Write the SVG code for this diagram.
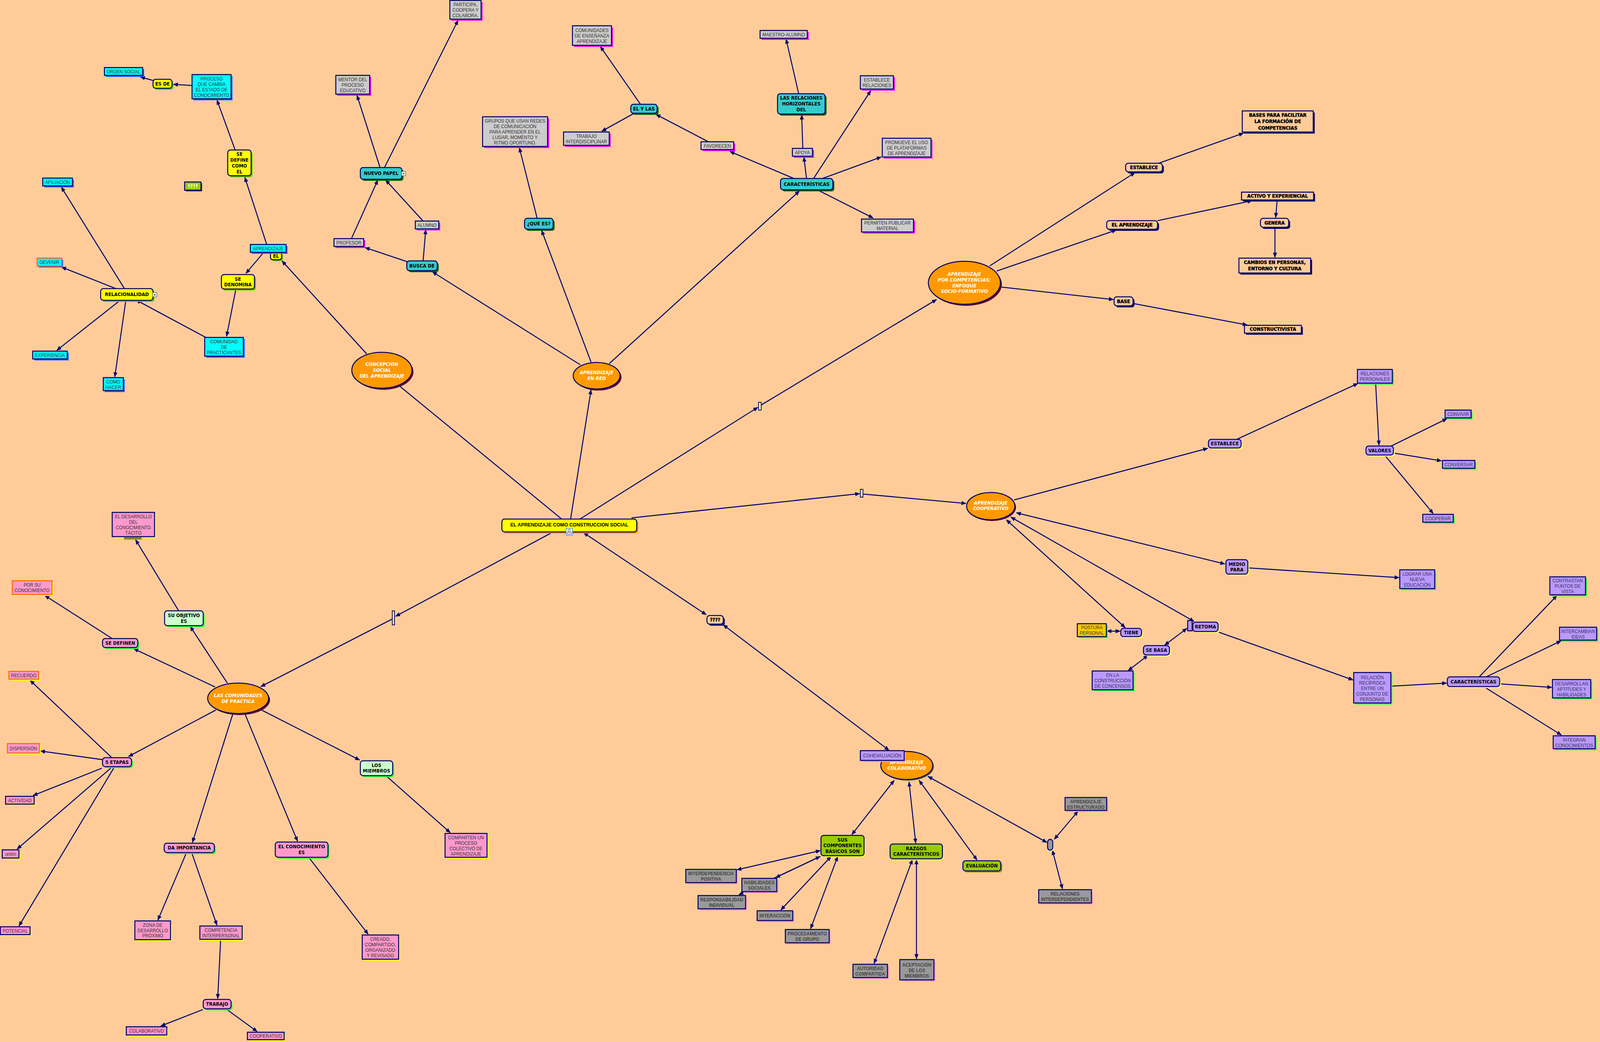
<svg xmlns="http://www.w3.org/2000/svg" width="4307" height="2668" viewBox="0 0 4307 2668" preserveAspectRatio="none">
<defs>
<style>
svg{width:100vw;height:100vh}
.c line{stroke:#000070;stroke-width:2.6;fill:none}
.c .a{marker-end:url(#ah)}
.c .d{marker-start:url(#ah);marker-end:url(#ah)}
.bx{stroke:#000066;stroke-width:2.6}
.sh{stroke:none}
text{text-anchor:middle;dominant-baseline:central}
.t{font-family:"Liberation Sans",Arial,sans-serif;font-size:12px;fill:#333}
.tg{font-family:"Liberation Sans",Arial,sans-serif;font-size:12px;font-weight:bold;fill:#444}
.tb{font-family:"DejaVu Sans",Verdana,sans-serif;font-size:12px;font-weight:bold;fill:#000}
.th{font-family:"DejaVu Sans",Verdana,sans-serif;font-size:12px;font-weight:bold;fill:#000;stroke:#000;stroke-width:0.6}
.te{font-family:"DejaVu Sans",Verdana,sans-serif;font-size:12px;font-weight:bold;font-style:italic;fill:#fff}
.tm{font-family:"Liberation Sans",Arial,sans-serif;font-size:13px;font-weight:bold;fill:#000}
.tp{font-family:"Liberation Sans",Arial,sans-serif;font-size:12px;fill:#333355}
.cy .bx{fill:#00FFFF}.cy .sh{fill:#3366FF}
.cyo .bx{fill:#00FFFF;stroke:#FF6600}.cyo .sh{fill:#3366FF}
.gm .bx{fill:#CCCCCC}.gm .sh{fill:#FF00FF}
.gp .bx{fill:#999999}.gp .sh{fill:#FF99CC}
.yr .bx{fill:#FFFF00}.yr .sh{fill:#66CC00}
.tr .bx{fill:#33CCCC}.tr .sh{fill:#006600}
.pk .bx{fill:#FF99CC}.pk .sh{fill:#FFFF00}
.pko .bx{fill:#FF99CC;stroke:#FF6600}.pko .sh{fill:#FFFF00}
.pkr .bx{fill:#FF99CC}.pkr .sh{fill:#33FF33}
.mr .bx{fill:#CCFFCC}.mr .sh{fill:#33FF33}
.pu .bx{fill:#BB99FF}.pu .sh{fill:#33FF33}
.pup .bx{fill:#BB99FF}.pup .sh{fill:#FF99CC}
.pur .bx{fill:#BB99FF}.pur .sh{fill:#FFFF66}
.gd .bx{fill:#FFCC00}.gd .sh{fill:#33FF33}
.gn .bx{fill:#99CC00}.gn .sh{fill:#FFFF33}
.gno .bx{fill:#99CC00}.gno .sh{fill:#999900}
.hv .bx{fill:#FFCC99}.hv .sh{fill:#000066}
.el .bx{fill:#FF9900}.el .sh{fill:#660033}
.elo .bx{fill:#FF9900}.elo .sh{fill:#666633}
.mn .bx{fill:#FFFF00}.mn .sh{fill:#FF9900}
.mk .bx{fill:#FFFF99}
.mky .bx{fill:#FFFF66}
.gr .bx{fill:#99CC00}.gr .sh{fill:#333333}
.ic{fill:#fff;stroke:#333;stroke-width:1}
.icx{font-family:"DejaVu Sans",sans-serif;font-size:10px;font-weight:bold;fill:#000}
</style>
<marker id="ah" viewBox="0 0 12 10" refX="11" refY="5" markerWidth="13" markerHeight="11" markerUnits="userSpaceOnUse" orient="auto-start-reverse"><path d="M0,0 L12,5 L0,10 z" fill="#000070"/></marker>
</defs>
<rect x="0" y="0" width="4307" height="2668" fill="#FFCC99"/>

<g id="connectors" class="c">
<line class="a" x1="517" y1="219" x2="467" y2="216"/>
<line class="a" x1="412" y1="206" x2="378" y2="197"/>
<line class="a" x1="633" y1="384" x2="584" y2="256"/>
<line class="a" x1="718" y1="626" x2="659" y2="454"/>
<line class="a" x1="710" y1="646" x2="662" y2="700"/>
<line class="a" x1="635" y1="740" x2="610" y2="861"/>
<line class="a" x1="554" y1="864" x2="366" y2="768"/>
<line class="a" x1="335" y1="739" x2="165" y2="479"/>
<line class="a" x1="312" y1="739" x2="166" y2="684"/>
<line class="a" x1="326" y1="767" x2="153" y2="897"/>
<line class="a" x1="339" y1="767" x2="309" y2="965"/>
<line class="a" x1="987" y1="906" x2="759" y2="668"/>
<line x1="1512" y1="1329" x2="1075" y2="988"/>
<line class="a" x1="946" y1="611" x2="1017" y2="461"/>
<line class="a" x1="1023" y1="429" x2="961" y2="244"/>
<line class="a" x1="1035" y1="429" x2="1233" y2="52"/>
<line class="a" x1="1139" y1="566" x2="1038" y2="461"/>
<line class="a" x1="1096" y1="670" x2="983" y2="634"/>
<line class="a" x1="1139" y1="668" x2="1146" y2="588"/>
<line class="a" x1="1562" y1="934" x2="1164" y2="696"/>
<line class="a" x1="1591" y1="927" x2="1458" y2="590"/>
<line class="a" x1="1446" y1="559" x2="1398" y2="378"/>
<line class="a" x1="1640" y1="931" x2="2152" y2="489"/>
<line class="a" x1="2137" y1="457" x2="1965" y2="388"/>
<line class="a" x1="1907" y1="363" x2="1766" y2="293"/>
<line class="a" x1="1724" y1="267" x2="1616" y2="119"/>
<line class="a" x1="1707" y1="290" x2="1620" y2="336"/>
<line class="a" x1="2171" y1="457" x2="2164" y2="402"/>
<line class="a" x1="2161" y1="380" x2="2158" y2="294"/>
<line class="a" x1="2150" y1="240" x2="2116" y2="100"/>
<line class="a" x1="2190" y1="457" x2="2344" y2="232"/>
<line class="a" x1="2214" y1="457" x2="2372" y2="402"/>
<line class="a" x1="2200" y1="486" x2="2350" y2="558"/>
<line class="a" x1="1536" y1="1329" x2="1591" y2="998"/>
<line class="a" x1="1561" y1="1329" x2="2040" y2="1043"/>
<line class="a" x1="2049" y1="1037" x2="2521" y2="767"/>
<line class="a" x1="2664" y1="681" x2="3055" y2="442"/>
<line class="a" x1="3119" y1="418" x2="3347" y2="341"/>
<line class="a" x1="2683" y1="694" x2="3005" y2="589"/>
<line class="a" x1="3116" y1="565" x2="3370" y2="514"/>
<line class="a" x1="3438" y1="512" x2="3434" y2="557"/>
<line class="a" x1="3432" y1="582" x2="3432" y2="659"/>
<line class="a" x1="2695" y1="735" x2="2997" y2="767"/>
<line class="a" x1="3050" y1="777" x2="3357" y2="832"/>
<line class="a" x1="1700" y1="1326" x2="2314" y2="1264"/>
<line class="a" x1="2323" y1="1265" x2="2600" y2="1289"/>
<line class="a" x1="2730" y1="1280" x2="3251" y2="1148"/>
<line class="a" x1="3329" y1="1125" x2="3655" y2="982"/>
<line class="a" x1="3703" y1="981" x2="3712" y2="1140"/>
<line class="a" x1="3745" y1="1142" x2="3895" y2="1072"/>
<line class="a" x1="3751" y1="1160" x2="3880" y2="1180"/>
<line class="a" x1="3727" y1="1165" x2="3858" y2="1315"/>
<line class="d" x1="2736" y1="1313" x2="3297" y2="1444"/>
<line class="a" x1="3359" y1="1454" x2="3766" y2="1479"/>
<line class="d" x1="2709" y1="1331" x2="3029" y2="1607"/>
<line class="d" x1="2721" y1="1324" x2="3214" y2="1591"/>
<line class="d" x1="2980" y1="1616" x2="3015" y2="1616"/>
<line class="d" x1="3195" y1="1609" x2="3135" y2="1652"/>
<line class="d" x1="3090" y1="1678" x2="3037" y2="1717"/>
<line class="a" x1="3279" y1="1618" x2="3642" y2="1741"/>
<line class="a" x1="3744" y1="1757" x2="3894" y2="1749"/>
<line class="a" x1="3982" y1="1733" x2="4191" y2="1525"/>
<line class="a" x1="4001" y1="1733" x2="4202" y2="1641"/>
<line class="a" x1="4037" y1="1751" x2="4177" y2="1760"/>
<line class="a" x1="3994" y1="1758" x2="4203" y2="1882"/>
<line class="d" x1="1571" y1="1364" x2="1901" y2="1574"/>
<line class="d" x1="1947" y1="1600" x2="2393" y2="1921"/>
<line class="d" x1="2407" y1="1998" x2="2293" y2="2137"/>
<line class="d" x1="2447" y1="2002" x2="2465" y2="2159"/>
<line class="d" x1="2474" y1="1998" x2="2630" y2="2202"/>
<line class="d" x1="2498" y1="1988" x2="2818" y2="2157"/>
<line class="d" x1="2838" y1="2149" x2="2902" y2="2077"/>
<line class="d" x1="2833" y1="2177" x2="2860" y2="2276"/>
<line class="d" x1="2456" y1="2201" x2="2353" y2="2467"/>
<line class="d" x1="2467" y1="2201" x2="2467" y2="2455"/>
<line class="d" x1="2208" y1="2178" x2="1984" y2="2227"/>
<line class="d" x1="2208" y1="2193" x2="2088" y2="2247"/>
<line class="a" x1="2208" y1="2193" x2="1989" y2="2291"/>
<line class="d" x1="2237" y1="2193" x2="2102" y2="2330"/>
<line class="d" x1="2255" y1="2193" x2="2182" y2="2378"/>
<line class="a" x1="1489" y1="1362" x2="1065" y2="1578"/>
<line class="a" x1="1056" y1="1585" x2="702" y2="1758"/>
<line class="a" x1="612" y1="1749" x2="512" y2="1604"/>
<line class="a" x1="481" y1="1564" x2="365" y2="1382"/>
<line class="a" x1="579" y1="1759" x2="360" y2="1661"/>
<line class="a" x1="302" y1="1635" x2="121" y2="1525"/>
<line class="a" x1="301" y1="1940" x2="81" y2="1742"/>
<line class="a" x1="581" y1="1818" x2="346" y2="1937"/>
<line class="a" x1="276" y1="1945" x2="109" y2="1923"/>
<line class="a" x1="274" y1="1967" x2="89" y2="2037"/>
<line class="a" x1="298" y1="1967" x2="46" y2="2174"/>
<line class="a" x1="306" y1="1967" x2="51" y2="2371"/>
<line class="a" x1="627" y1="1827" x2="518" y2="2157"/>
<line class="a" x1="659" y1="1827" x2="801" y2="2154"/>
<line class="a" x1="704" y1="1818" x2="968" y2="1946"/>
<line class="a" x1="1040" y1="1987" x2="1212" y2="2132"/>
<line class="a" x1="502" y1="2183" x2="425" y2="2356"/>
<line class="a" x1="516" y1="2183" x2="584" y2="2369"/>
<line class="a" x1="831" y1="2195" x2="991" y2="2392"/>
<line class="a" x1="594" y1="2405" x2="586" y2="2557"/>
<line class="a" x1="546" y1="2585" x2="433" y2="2627"/>
<line class="a" x1="608" y1="2583" x2="692" y2="2641"/>
</g>

<g id="nodes">
<g id="n-orden-social" class="cy"><rect class="sh" x="285" y="177" width="103" height="20"/><rect class="bx" x="281" y="173" width="103" height="20"/><text class="t" x="332.5" y="183">ORDEN SOCIAL</text></g>
<g id="n-es-de" class="yr"><rect class="sh" x="416" y="207" width="51" height="23" rx="7"/><rect class="bx" x="412" y="203" width="51" height="23" rx="7"/><text class="tb" x="437.5" y="214.5">ES DE</text></g>
<g id="n-proceso" class="cy"><rect class="sh" x="521" y="195" width="105" height="62"/><rect class="bx" x="517" y="191" width="105" height="62"/><text class="t" x="569.5" y="201">PROCESO</text><text class="t" x="569.5" y="215">QUE CAMBIA</text><text class="t" x="569.5" y="229">EL ESTADO DE</text><text class="t" x="569.5" y="243">CONOCIMIENTO</text></g>
<g id="n-se-define" class="yr"><rect class="sh" x="617" y="388" width="63" height="66" rx="7"/><rect class="bx" x="613" y="384" width="63" height="66" rx="7"/><text class="tb" x="644.5" y="395">SE</text><text class="tb" x="644.5" y="410">DEFINE</text><text class="tb" x="644.5" y="425">COMO</text><text class="tb" x="644.5" y="440">EL</text></g>
<g id="n-mentor" class="gm"><rect class="sh" x="908" y="197" width="91" height="48"/><rect class="bx" x="904" y="193" width="91" height="48"/><text class="t" x="949.5" y="203">MENTOR DEL</text><text class="t" x="949.5" y="217">PROCESO</text><text class="t" x="949.5" y="231">EDUCATIVO</text></g>
<g id="n-afiliacion" class="cy"><rect class="sh" x="119" y="460" width="80" height="20"/><rect class="bx" x="115" y="456" width="80" height="20"/><text class="t" x="155" y="466">AFILIACION</text></g>
<g id="n-q-green" class="gr"><rect class="sh" x="500" y="469" width="44" height="21"/><rect class="bx" x="497" y="466" width="44" height="21"/><text class="tb" x="519" y="476.5" style="fill:#fff">????</text></g>
<g id="n-nuevo-papel" class="tr"><rect class="sh" x="974" y="433" width="112" height="30" rx="7"/><rect class="bx" x="970" y="429" width="112" height="30" rx="7"/><text class="tb" x="1026" y="444">NUEVO PAPEL</text><rect class="ic" x="1081" y="439" width="11" height="11"/><text class="icx" x="1086.5" y="444.5">»</text></g>
<g id="n-profesor" class="gm"><rect class="sh" x="903" y="615" width="80" height="20"/><rect class="bx" x="899" y="611" width="80" height="20"/><text class="t" x="939" y="621">PROFESOR</text></g>
<g id="n-el" class="yr"><rect class="sh" x="732" y="650" width="30" height="19" rx="6"/><rect class="bx" x="728" y="646" width="30" height="19" rx="6"/><text class="tb" x="743" y="656">EL</text></g>
<g id="n-aprendizaje-c" class="cy"><rect class="sh" x="678" y="630" width="96" height="20"/><rect class="bx" x="674" y="626" width="96" height="20"/><text class="t" x="722" y="636">APRENDIZAJE</text></g>
<g id="n-devenir" class="cyo"><rect class="sh" x="104" y="665" width="66" height="20"/><rect class="bx" x="100" y="661" width="66" height="20"/><text class="t" x="133" y="671">DEVENIR</text></g>
<g id="n-se-denomina" class="yr"><rect class="sh" x="600" y="707" width="89" height="37" rx="7"/><rect class="bx" x="596" y="703" width="89" height="37" rx="7"/><text class="tb" x="640.5" y="714.5">SE</text><text class="tb" x="640.5" y="728.5">DENOMINA</text></g>
<g id="n-relacionalidad" class="yr"><rect class="sh" x="275" y="743" width="141" height="30" rx="7"/><rect class="bx" x="271" y="739" width="141" height="30" rx="7"/><text class="tb" x="341.5" y="754">RELACIONALIDAD</text><rect class="ic" x="411" y="749" width="11" height="11"/><text class="icx" x="416.5" y="754.5">»</text></g>
<g id="n-comunidad-practicantes" class="cy"><rect class="sh" x="555" y="868" width="104" height="48"/><rect class="bx" x="551" y="864" width="104" height="48"/><text class="t" x="603" y="874">COMUNIDAD</text><text class="t" x="603" y="888">DE</text><text class="t" x="603" y="902">PRACTICANTES</text></g>
<g id="n-experiencia" class="cy"><rect class="sh" x="92" y="903" width="93" height="20"/><rect class="bx" x="88" y="899" width="93" height="20"/><text class="t" x="134.5" y="909">EXPERIENCIA</text></g>
<g id="n-como-hacer" class="cy"><rect class="sh" x="282" y="971" width="54" height="33"/><rect class="bx" x="278" y="967" width="54" height="33"/><text class="t" x="305" y="977">COMO</text><text class="t" x="305" y="991">HACER</text></g>
<g id="n-concepcion" class="el"><ellipse class="sh" cx="1032" cy="952" rx="81" ry="46"/><ellipse class="bx" cx="1028" cy="948" rx="81" ry="46"/><text class="te" x="1028" y="933">CONCEPCION</text><text class="te" x="1028" y="948">SOCIAL</text><text class="te" x="1028" y="963">DEL APRENDIZAJE</text></g>

<g id="n-participa" class="gm"><rect class="sh" x="1215" y="5" width="84" height="48"/><rect class="bx" x="1211" y="1" width="84" height="48"/><text class="t" x="1253" y="11.5">PARTICIPA,</text><text class="t" x="1253" y="25.5">COOPERA Y</text><text class="t" x="1253" y="39">COLABORA.</text></g>
<g id="n-comunidades-ea" class="gm"><rect class="sh" x="1545" y="70" width="105" height="50"/><rect class="bx" x="1541" y="66" width="105" height="50"/><text class="t" x="1593.5" y="77">COMUNIDADES</text><text class="t" x="1593.5" y="91">DE ENSEÑANZA</text><text class="t" x="1593.5" y="105">APRENDIZAJE</text></g>
<g id="n-maestro-alumno" class="gm"><rect class="sh" x="2050" y="82" width="127" height="20"/><rect class="bx" x="2046" y="78" width="127" height="20"/><text class="t" x="2109.5" y="88">MAESTRO-ALUMNO</text></g>
<g id="n-grupos" class="gm"><rect class="sh" x="1303" y="303" width="175" height="76"/><rect class="bx" x="1299" y="299" width="175" height="76"/><text class="t" x="1386.5" y="309">GRUPOS QUE USAN REDES</text><text class="t" x="1386.5" y="323">DE COMUNICACIÓN</text><text class="t" x="1386.5" y="337">PARA APRENDER EN EL</text><text class="t" x="1386.5" y="351">LUGAR, MOMENTO Y</text><text class="t" x="1386.5" y="365">RITMO OPORTUNO.</text></g>
<g id="n-el-y-las" class="tr"><rect class="sh" x="1702" y="271" width="71" height="23" rx="7"/><rect class="bx" x="1698" y="267" width="71" height="23" rx="7"/><text class="tb" x="1733.5" y="278.5">EL Y LAS</text></g>
<g id="n-trabajo-inter" class="gm"><rect class="sh" x="1521" y="342" width="123" height="34"/><rect class="bx" x="1517" y="338" width="123" height="34"/><text class="t" x="1578.5" y="348">TRABAJO</text><text class="t" x="1578.5" y="362">INTERDISCIPLINAR</text></g>
<g id="n-relaciones-horiz" class="tr"><rect class="sh" x="2097" y="244" width="128" height="52" rx="7"/><rect class="bx" x="2093" y="240" width="128" height="52" rx="7"/><text class="tb" x="2157" y="251">LAS RELACIONES</text><text class="tb" x="2157" y="266">HORIZONTALES</text><text class="tb" x="2157" y="281">DEL</text></g>
<g id="n-favorecen" class="gm"><rect class="sh" x="1891" y="367" width="88" height="20"/><rect class="bx" x="1887" y="363" width="88" height="20"/><text class="t" x="1931" y="373">FAVORECEN</text></g>
<g id="n-apoya" class="gm"><rect class="sh" x="2137" y="384" width="54" height="20"/><rect class="bx" x="2133" y="380" width="54" height="20"/><text class="t" x="2160" y="390">APOYA</text></g>
<g id="n-caracteristicas-red" class="tr"><rect class="sh" x="2105" y="461" width="141" height="29" rx="7"/><rect class="bx" x="2101" y="457" width="141" height="29" rx="7"/><text class="tb" x="2171.5" y="471.5">CARACTERÍSTICAS</text></g>
<g id="n-alumno" class="gm"><rect class="sh" x="1122" y="570" width="63" height="20"/><rect class="bx" x="1118" y="566" width="63" height="20"/><text class="t" x="1149.5" y="576">ALUMNO</text></g>
<g id="n-que-es" class="tr"><rect class="sh" x="1416" y="563" width="77" height="28" rx="7"/><rect class="bx" x="1412" y="559" width="77" height="28" rx="7"/><text class="tb" x="1450.5" y="573">¿QUÉ ES?</text></g>
<g id="n-busca-de" class="tr"><rect class="sh" x="1099" y="672" width="82" height="25" rx="7"/><rect class="bx" x="1095" y="668" width="82" height="25" rx="7"/><text class="tb" x="1136" y="680.5">BUSCA DE</text></g>
<g id="n-aprendizaje-red" class="el"><ellipse class="sh" cx="1610" cy="966" rx="63" ry="34"/><ellipse class="bx" cx="1606" cy="962" rx="63" ry="34"/><text class="te" x="1606" y="954">APRENDIZAJE</text><text class="te" x="1606" y="969">EN RED</text></g>
<g id="n-establece-relaciones" class="gm"><rect class="sh" x="2320" y="198" width="89" height="34"/><rect class="bx" x="2316" y="194" width="89" height="34"/><text class="t" x="2360.5" y="204">ESTABLECE</text><text class="t" x="2360.5" y="218">RELACIONES</text></g>
<g id="n-promueve" class="gm"><rect class="sh" x="2379" y="358" width="131" height="48"/><rect class="bx" x="2375" y="354" width="131" height="48"/><text class="t" x="2440.5" y="364">PROMUEVE EL USO</text><text class="t" x="2440.5" y="378">DE PLATAFORMAS</text><text class="t" x="2440.5" y="392">DE APRENDIZAJE</text></g>
<g id="n-permiten" class="gm"><rect class="sh" x="2323" y="565" width="140" height="33"/><rect class="bx" x="2319" y="561" width="140" height="33"/><text class="t" x="2389" y="570.5">PERMITEN PUBLICAR</text><text class="t" x="2389" y="584.5">MATERIAL</text></g>

<g id="n-competencias" class="el"><ellipse class="sh" cx="2600" cy="728" rx="97" ry="55"/><ellipse class="bx" cx="2596" cy="724" rx="97" ry="55"/><text class="te" x="2596" y="702">APRENDIZAJE</text><text class="te" x="2596" y="717">POR COMPETENCIAS:</text><text class="te" x="2596" y="731.5">ENFOQUE</text><text class="te" x="2596" y="746">SOCIO-FORMATIVO</text></g>
<g id="n-establece-h" class="hv"><rect class="sh" x="3034" y="422" width="99" height="22" rx="7"/><rect class="bx" x="3030" y="418" width="99" height="22" rx="7"/><text class="th" x="3079.5" y="429">ESTABLECE</text></g>
<g id="n-el-aprendizaje-h" class="hv"><rect class="sh" x="2983" y="569" width="137" height="22" rx="7"/><rect class="bx" x="2979" y="565" width="137" height="22" rx="7"/><text class="th" x="3047.5" y="576">EL APRENDIZAJE</text></g>
<g id="n-base" class="hv"><rect class="sh" x="3003" y="764" width="51" height="23" rx="7"/><rect class="bx" x="2999" y="760" width="51" height="23" rx="7"/><text class="th" x="3024.5" y="771.5">BASE</text></g>
<g id="n-bases-para" class="hv"><rect class="sh" x="3348" y="288" width="191" height="54"/><rect class="bx" x="3344" y="284" width="191" height="54"/><text class="th" x="3439.5" y="295">BASES PARA FACILITAR</text><text class="th" x="3439.5" y="311">LA FORMACIÓN DE</text><text class="th" x="3439.5" y="328">COMPETENCIAS</text></g>
<g id="n-activo" class="hv"><rect class="sh" x="3346" y="496" width="194" height="20"/><rect class="bx" x="3342" y="492" width="194" height="20"/><text class="th" x="3439" y="502">ACTIVO Y EXPERIENCIAL</text></g>
<g id="n-genera" class="hv"><rect class="sh" x="3397" y="563" width="76" height="23" rx="7"/><rect class="bx" x="3393" y="559" width="76" height="23" rx="7"/><text class="th" x="3431" y="570.5">GENERA</text></g>
<g id="n-cambios" class="hv"><rect class="sh" x="3339" y="665" width="193" height="38"/><rect class="bx" x="3335" y="661" width="193" height="38"/><text class="th" x="3431.5" y="672">CAMBIOS EN PERSONAS,</text><text class="th" x="3431.5" y="688">ENTORNO Y CULTURA</text></g>
<g id="n-constructivista" class="hv"><rect class="sh" x="3354" y="837" width="153" height="20"/><rect class="bx" x="3350" y="833" width="153" height="20"/><text class="th" x="3426.5" y="843">CONSTRUCTIVISTA</text></g>

<g id="n-marker-1" class="mk"><rect class="bx" x="2042" y="1030" width="7" height="20" style="stroke-width:2"/></g>
<g id="n-marker-2" class="mk"><rect class="bx" x="2316" y="1253" width="7" height="20" style="stroke-width:2"/></g>
<g id="n-cooperativo" class="el"><ellipse class="sh" cx="2670" cy="1299" rx="65" ry="35"/><ellipse class="bx" cx="2667" cy="1296" rx="65" ry="35"/><text class="te" x="2667" y="1288">APRENDIZAJE</text><text class="te" x="2667" y="1302">COOPERATIVO</text></g>
<g id="n-establece-p" class="pur"><rect class="sh" x="3257" y="1129" width="88" height="22" rx="7"/><rect class="bx" x="3253" y="1125" width="88" height="22" rx="7"/><text class="tb" x="3297" y="1136">ESTABLECE</text></g>
<g id="n-relaciones-personales" class="pu"><rect class="sh" x="3658" y="950" width="94" height="35"/><rect class="bx" x="3654" y="946" width="94" height="35"/><text class="tp" x="3701" y="956.5">RELACIONES</text><text class="tp" x="3701" y="970.5">PERSONALES</text></g>
<g id="n-valores" class="pur"><rect class="sh" x="3681" y="1146" width="74" height="23" rx="7"/><rect class="bx" x="3677" y="1142" width="74" height="23" rx="7"/><text class="tb" x="3714" y="1153.5">VALORES</text></g>
<g id="n-convivir" class="pu"><rect class="sh" x="3894" y="1054" width="70" height="20"/><rect class="bx" x="3890" y="1050" width="70" height="20"/><text class="tp" x="3925" y="1060">CONVIVIR</text></g>
<g id="n-conversar" class="pu"><rect class="sh" x="3887" y="1183" width="87" height="20"/><rect class="bx" x="3883" y="1179" width="87" height="20"/><text class="tp" x="3926.5" y="1189">CONVERSAR</text></g>
<g id="n-cooperar" class="pu"><rect class="sh" x="3834" y="1321" width="82" height="20"/><rect class="bx" x="3830" y="1317" width="82" height="20"/><text class="tp" x="3871" y="1327">COOPERAR</text></g>
<g id="n-medio-para" class="pur"><rect class="sh" x="3304" y="1437" width="59" height="37" rx="7"/><rect class="bx" x="3300" y="1433" width="59" height="37" rx="7"/><text class="tb" x="3329.5" y="1445">MEDIO</text><text class="tb" x="3329.5" y="1459">PARA</text></g>
<g id="n-lograr" class="pu"><rect class="sh" x="3772" y="1463" width="94" height="48"/><rect class="bx" x="3768" y="1459" width="94" height="48"/><text class="tp" x="3815" y="1469">LOGRAR UNA</text><text class="tp" x="3815" y="1483">NUEVA</text><text class="tp" x="3815" y="1497">EDUCACIÓN</text></g>
<g id="n-marker-4" class="pup"><rect class="sh" x="3200" y="1592" width="12" height="26"/><rect class="bx" x="3197" y="1589" width="12" height="26"/></g>
<g id="n-retoma" class="pur"><rect class="sh" x="3215" y="1597" width="68" height="24" rx="7"/><rect class="bx" x="3211" y="1593" width="68" height="24" rx="7"/><text class="tb" x="3245" y="1605">RETOMA</text></g>
<g id="n-relacion-reciproca" class="pu"><rect class="sh" x="3648" y="1726" width="100" height="78"/><rect class="bx" x="3644" y="1722" width="100" height="78"/><text class="tp" x="3694" y="1734">RELACIÓN</text><text class="tp" x="3694" y="1748">RECÍPROCA</text><text class="tp" x="3694" y="1762">ENTRE UN</text><text class="tp" x="3694" y="1776">CONJUNTO DE</text><text class="tp" x="3694" y="1790">PERSONAS</text></g>
<g id="n-caracteristicas-coop" class="pur"><rect class="sh" x="3900" y="1737" width="141" height="25" rx="7"/><rect class="bx" x="3896" y="1733" width="141" height="25" rx="7"/><text class="tb" x="3966.5" y="1745.5">CARACTERÍSTICAS</text></g>
<g id="n-contrastan" class="pu"><rect class="sh" x="4176" y="1481" width="96" height="46"/><rect class="bx" x="4172" y="1477" width="96" height="46"/><text class="tp" x="4220" y="1486.5">CONTRASTAN</text><text class="tp" x="4220" y="1500.5">PUNTOS DE</text><text class="tp" x="4220" y="1514">VISTA</text></g>
<g id="n-intercambian" class="pu"><rect class="sh" x="4202" y="1610" width="100" height="33"/><rect class="bx" x="4198" y="1606" width="100" height="33"/><text class="tp" x="4248" y="1616">INTERCAMBIAN</text><text class="tp" x="4248" y="1630">IDEAS</text></g>
<g id="n-desarrollan" class="pu"><rect class="sh" x="4183" y="1744" width="103" height="47"/><rect class="bx" x="4179" y="1740" width="103" height="47"/><text class="tp" x="4230.5" y="1750">DESARROLLAN</text><text class="tp" x="4230.5" y="1764">APTITUDES Y</text><text class="tp" x="4230.5" y="1778">HABILIDADES</text></g>
<g id="n-integran" class="pu"><rect class="sh" x="4185" y="1888" width="113" height="33"/><rect class="bx" x="4181" y="1884" width="113" height="33"/><text class="tp" x="4237.5" y="1894.5">INTEGRAN</text><text class="tp" x="4237.5" y="1908">CONOCIMIENTOS</text></g>
<g id="n-postura" class="gd"><rect class="sh" x="2904" y="1601" width="78" height="33"/><rect class="bx" x="2900" y="1597" width="78" height="33"/><text class="t" x="2939" y="1606.5">POSTURA</text><text class="t" x="2939" y="1620.5">PERSONAL</text></g>
<g id="n-tiene" class="pur"><rect class="sh" x="3021" y="1613" width="56" height="21" rx="7"/><rect class="bx" x="3017" y="1609" width="56" height="21" rx="7"/><text class="tb" x="3045" y="1619.5">TIENE</text></g>
<g id="n-se-basa" class="pur"><rect class="sh" x="3082" y="1657" width="70" height="24" rx="7"/><rect class="bx" x="3078" y="1653" width="70" height="24" rx="7"/><text class="tb" x="3113" y="1665">SE BASA</text></g>
<g id="n-en-la-construccion" class="pu"><rect class="sh" x="2944" y="1722" width="110" height="48"/><rect class="bx" x="2940" y="1718" width="110" height="48"/><text class="tp" x="2995" y="1728.5">EN LA</text><text class="tp" x="2995" y="1742">CONSTRUCCIÓN</text><text class="tp" x="2995" y="1756">DE CONCENSOS</text></g>

<g id="n-main" class="mn"><rect class="sh" x="1355" y="1333" width="363" height="33" rx="7"/><rect class="bx" x="1351" y="1329" width="363" height="33" rx="7"/><text class="tm" x="1532.5" y="1344">EL APRENDIZAJE COMO CONSTRUCCION SOCIAL</text><rect x="1524" y="1353" width="17" height="17" fill="#fff" stroke="#3366CC" stroke-width="1.2"/><rect x="1529" y="1356" width="6" height="5" fill="none" stroke="#333" stroke-width="1"/><rect x="1527" y="1363" width="11" height="4" fill="none" stroke="#333" stroke-width="1"/></g>
<g id="n-q-center" class="hv"><rect class="sh" x="1907" y="1580" width="44" height="22" rx="7"/><rect class="bx" x="1903" y="1576" width="44" height="22" rx="7"/><text class="th" x="1925" y="1587">????</text></g>

<g id="n-marker-3" class="mky"><rect class="bx" x="1056" y="1564" width="6" height="36" style="stroke-width:2"/></g>
<g id="n-comunidades-practica" class="el"><ellipse class="sh" cx="645" cy="1792" rx="82" ry="39"/><ellipse class="bx" cx="641" cy="1788" rx="82" ry="39"/><text class="te" x="641" y="1781">LAS COMUNIDADES</text><text class="te" x="641" y="1796">DE PRACTICA</text></g>
<g id="n-desarrollo-tacito" class="pk"><rect class="sh" x="306" y="1316" width="114" height="62"/><rect class="bx" x="302" y="1312" width="114" height="62"/><rect x="334" y="1377" width="47" height="5" fill="#999933"/><line x1="334" y1="1377" x2="381" y2="1377" stroke="#333" stroke-width="1.5"/><text class="t" x="359" y="1322.5">EL DESARROLLO</text><text class="t" x="359" y="1336.5">DEL</text><text class="t" x="359" y="1350">CONOCIMIENTO</text><text class="t" x="359" y="1364">TÁCITO</text></g>
<g id="n-por-su" class="pko"><rect class="sh" x="37" y="1491" width="107" height="35"/><rect class="bx" x="33" y="1487" width="107" height="35"/><text class="t" x="86.5" y="1497.5">POR SU</text><text class="t" x="86.5" y="1511.5">CONOCIMIENTO</text></g>
<g id="n-su-objetivo" class="mr"><rect class="sh" x="447" y="1568" width="104" height="38" rx="7"/><rect class="bx" x="443" y="1564" width="104" height="38" rx="7"/><text class="tb" x="495" y="1576">SU OBJETIVO</text><text class="tb" x="495" y="1590.5">ES</text></g>
<g id="n-se-definen" class="pkr"><rect class="sh" x="280" y="1639" width="95" height="23" rx="7"/><rect class="bx" x="276" y="1635" width="95" height="23" rx="7"/><text class="tb" x="323.5" y="1646.5">SE DEFINEN</text></g>
<g id="n-recuerdo" class="pko"><rect class="sh" x="28" y="1723" width="80" height="20"/><rect class="bx" x="24" y="1719" width="80" height="20"/><text class="t" x="64" y="1729">RECUERDO</text></g>
<g id="n-dispersion" class="pko"><rect class="sh" x="24" y="1908" width="86" height="24"/><rect class="bx" x="20" y="1904" width="86" height="24"/><text class="t" x="63" y="1916">DISPERSIÓN</text></g>
<g id="n-5-etapas" class="pkr"><rect class="sh" x="280" y="1944" width="78" height="23" rx="7"/><rect class="bx" x="276" y="1940" width="78" height="23" rx="7"/><text class="tb" x="315" y="1951.5">5 ETAPAS</text></g>
<g id="n-actividad" class="pk"><rect class="sh" x="19" y="2043" width="77" height="20"/><rect class="bx" x="15" y="2039" width="77" height="20"/><text class="t" x="53.5" y="2049">ACTIVIDAD</text></g>
<g id="n-union" class="pk"><rect class="sh" x="10" y="2180" width="45" height="21"/><rect class="bx" x="6" y="2176" width="45" height="21"/><text class="t" x="28.5" y="2186.5">unión</text></g>
<g id="n-potencial" class="pk"><rect class="sh" x="5" y="2377" width="80" height="20"/><rect class="bx" x="1" y="2373" width="80" height="20"/><text class="t" x="41" y="2383">POTENCIAL</text></g>
<g id="n-los-miembros" class="mr"><rect class="sh" x="974" y="1952" width="87" height="38" rx="7"/><rect class="bx" x="970" y="1948" width="87" height="38" rx="7"/><text class="tb" x="1013.5" y="1959.5">LOS</text><text class="tb" x="1013.5" y="1974">MIEMBROS</text></g>
<g id="n-da-importancia" class="pkr"><rect class="sh" x="446" y="2163" width="135" height="24" rx="7"/><rect class="bx" x="442" y="2159" width="135" height="24" rx="7"/><text class="tb" x="509.5" y="2171">DA IMPORTANCIA</text></g>
<g id="n-el-conocimiento" class="pkr"><rect class="sh" x="745" y="2160" width="142" height="39" rx="7"/><rect class="bx" x="741" y="2156" width="142" height="39" rx="7"/><text class="tb" x="812" y="2168">EL CONOCIMIENTO</text><text class="tb" x="812" y="2182.5">ES</text></g>
<g id="n-zona" class="pk"><rect class="sh" x="367" y="2362" width="96" height="48"/><rect class="bx" x="363" y="2358" width="96" height="48"/><text class="t" x="411" y="2368.5">ZONA DE</text><text class="t" x="411" y="2382">DESARROLLO</text><text class="t" x="411" y="2395.5">PRÓXIMO</text></g>
<g id="n-competencia-inter" class="pk"><rect class="sh" x="542" y="2375" width="114" height="34"/><rect class="bx" x="538" y="2371" width="114" height="34"/><text class="t" x="595" y="2381.5">COMPETENCIA</text><text class="t" x="595" y="2395">INTERPERSONAL</text></g>
<g id="n-creado" class="pk"><rect class="sh" x="979" y="2398" width="98" height="62"/><rect class="bx" x="975" y="2394" width="98" height="62"/><text class="t" x="1024" y="2404">CREADO,</text><text class="t" x="1024" y="2418">COMPARTIDO,</text><text class="t" x="1024" y="2432">ORGANIZADO</text><text class="t" x="1024" y="2446">Y REVISADO</text></g>
<g id="n-trabajo" class="pkr"><rect class="sh" x="551" y="2563" width="75" height="24" rx="7"/><rect class="bx" x="547" y="2559" width="75" height="24" rx="7"/><text class="tb" x="584.5" y="2571">TRABAJO</text></g>
<g id="n-colaborativo" class="pk"><rect class="sh" x="344" y="2633" width="109" height="21"/><rect class="bx" x="340" y="2629" width="109" height="21"/><text class="t" x="394.5" y="2639.5">COLABORATIVO</text></g>
<g id="n-cooperativo-b" class="pk"><rect class="sh" x="670" y="2647" width="99" height="19"/><rect class="bx" x="666" y="2643" width="99" height="19"/><text class="t" x="715.5" y="2652.5">COOPERATIVO</text></g>
<g id="n-comparten" class="pk"><rect class="sh" x="1202" y="2138" width="113" height="61"/><rect class="bx" x="1198" y="2134" width="113" height="61"/><text class="t" x="1254.5" y="2144">COMPARTEN UN</text><text class="t" x="1254.5" y="2158">PROCESO</text><text class="t" x="1254.5" y="2172">COLECTIVO DE</text><text class="t" x="1254.5" y="2186">APRENDIZAJE</text></g>

<g id="n-colaborativo-e" class="elo"><ellipse class="sh" cx="2444" cy="1963" rx="70" ry="36"/><ellipse class="bx" cx="2441" cy="1960" rx="70" ry="36"/><text class="te" x="2441" y="1952">APRENDIZAJE</text><text class="te" x="2441" y="1967">COLABORATIVO</text></g>
<g id="n-cohevaluacion" class="pup"><rect class="sh" x="2320" y="1926" width="118" height="25"/><rect class="bx" x="2316" y="1922" width="118" height="25"/><text class="tp" x="2375" y="1934.5">COHEVALUACIÓN</text></g>
<g id="n-sus-componentes" class="gn"><rect class="sh" x="2214" y="2143" width="116" height="52" rx="7"/><rect class="bx" x="2210" y="2139" width="116" height="52" rx="7"/><text class="tb" x="2268" y="2150.5">SUS</text><text class="tb" x="2268" y="2165">COMPONENTES</text><text class="tb" x="2268" y="2180">BÁSICOS SON</text></g>
<g id="n-razgos" class="gn"><rect class="sh" x="2400" y="2165" width="141" height="38" rx="7"/><rect class="bx" x="2396" y="2161" width="141" height="38" rx="7"/><text class="tb" x="2466.5" y="2172.5">RAZGOS</text><text class="tb" x="2466.5" y="2187">CARACTERÍSTICOS</text></g>
<g id="n-evaluacion" class="gno"><rect class="sh" x="2596" y="2208" width="102" height="26" rx="7"/><rect class="bx" x="2592" y="2204" width="102" height="26" rx="7"/><text class="tb" x="2643" y="2217">EVALUACIÓN</text></g>
<g id="n-pill" class="gp"><rect class="sh" x="2823" y="2152" width="14" height="28" rx="7" style="fill:#FFFF66"/><rect class="bx" x="2820" y="2149" width="14" height="28" rx="7"/></g>
<g id="n-estructurado" class="gp"><rect class="sh" x="2871" y="2046" width="112" height="33"/><rect class="bx" x="2867" y="2042" width="112" height="33"/><text class="tg" x="2923" y="2052.5">APRENDIZAJE</text><text class="tg" x="2923" y="2066">ESTRUCTURADO</text></g>
<g id="n-rel-interdependientes" class="gp"><rect class="sh" x="2800" y="2282" width="142" height="34"/><rect class="bx" x="2796" y="2278" width="142" height="34"/><text class="tg" x="2867" y="2288">RELACIONES</text><text class="tg" x="2867" y="2302">INTERDEPENDIENTES</text></g>
<g id="n-autoridad" class="gp"><rect class="sh" x="2300" y="2473" width="93" height="34"/><rect class="bx" x="2296" y="2469" width="93" height="34"/><text class="tg" x="2342.5" y="2479">AUTORIDAD</text><text class="tg" x="2342.5" y="2493">COMPARTIDA</text></g>
<g id="n-aceptacion" class="gp"><rect class="sh" x="2426" y="2461" width="92" height="52"/><rect class="bx" x="2422" y="2457" width="92" height="52"/><text class="tg" x="2468" y="2470">ACEPTACIÓN</text><text class="tg" x="2468" y="2484">DE LOS</text><text class="tg" x="2468" y="2498">MIEMBROS</text></g>
<g id="n-interdependencia" class="gp"><rect class="sh" x="1850" y="2230" width="136" height="34"/><rect class="bx" x="1846" y="2226" width="136" height="34"/><text class="tg" x="1914" y="2236.5">INTERDEPENDENCIA</text><text class="tg" x="1914" y="2250">POSITIVA</text></g>
<g id="n-responsabilidad" class="gp"><rect class="sh" x="1883" y="2297" width="128" height="34"/><rect class="bx" x="1879" y="2293" width="128" height="34"/><text class="tg" x="1943" y="2303.5">RESPONSABILIDAD</text><text class="tg" x="1943" y="2317.5">INDIVIDUAL</text></g>
<g id="n-habilidades" class="gp"><rect class="sh" x="2001" y="2253" width="94" height="34"/><rect class="bx" x="1997" y="2249" width="94" height="34"/><text class="tg" x="2044" y="2259">HABILIDADES</text><text class="tg" x="2044" y="2273">SOCIALES</text></g>
<g id="n-interaccion" class="gp"><rect class="sh" x="2042" y="2336" width="96" height="25"/><rect class="bx" x="2038" y="2332" width="96" height="25"/><text class="tg" x="2086" y="2344.5">INTERACCIÓN</text></g>
<g id="n-procesamiento" class="gp"><rect class="sh" x="2118" y="2384" width="118" height="34"/><rect class="bx" x="2114" y="2380" width="118" height="34"/><text class="tg" x="2173" y="2390.5">PROCESAMIENTO</text><text class="tg" x="2173" y="2404">DE GRUPO</text></g>
</g>
</svg>
